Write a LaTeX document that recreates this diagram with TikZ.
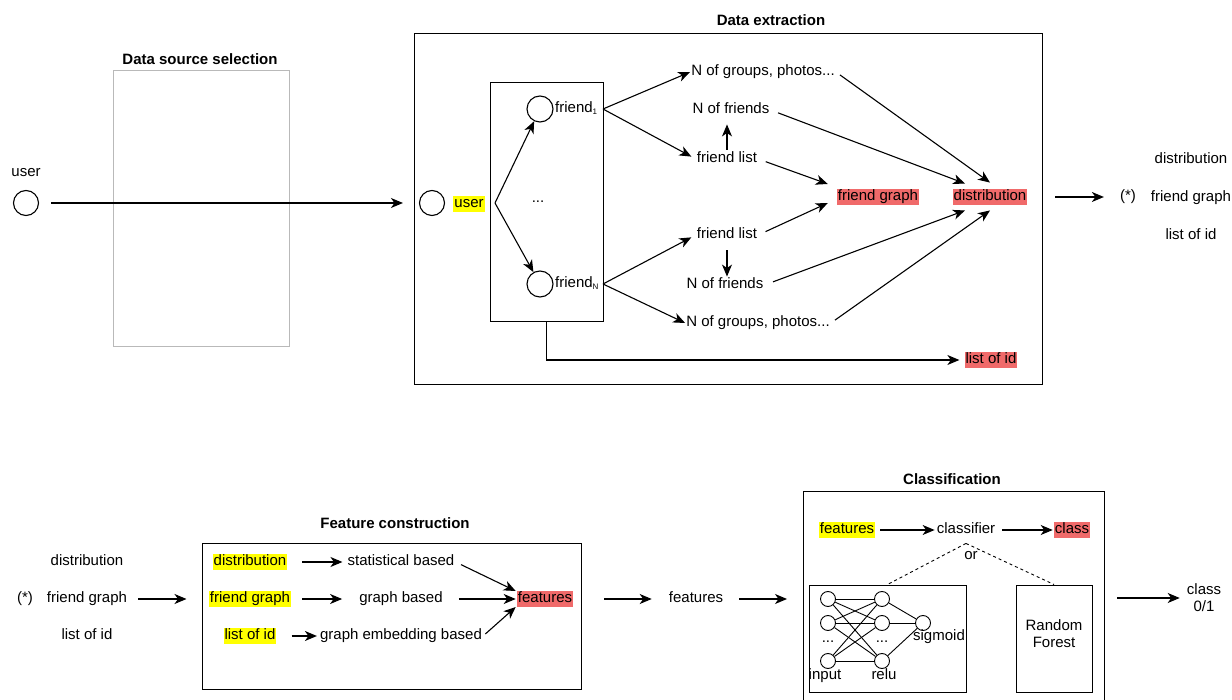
\documentclass[tikz,border=0pt]{standalone}
\usepackage{fontspec}
\setmainfont{Liberation Sans}
\usetikzlibrary{arrows.meta}
\definecolor{hly}{RGB}{255,255,0}
\definecolor{hlr}{RGB}{240,106,106}
\definecolor{lgray}{RGB}{185,185,185}
\begin{document}
\begin{tikzpicture}[x=1pt,y=-1pt, font=\fontsize{15}{17}\selectfont,
 txt/.style={inner xsep=1pt, inner ysep=1pt, text height=11pt, text depth=3.5pt},
 hy/.style={txt, fill=hly},
 hr/.style={txt, fill=hlr},
 ttl/.style={font=\fontsize{15}{17}\selectfont\bfseries},
 arr/.style={-{Stealth[length=12pt,width=10pt,inset=3.5pt]}, line width=1.1pt},
 ln/.style={line width=0.9pt},
 circ/.style={circle, draw, line width=1.1pt, minimum size=25pt, inner sep=0pt},
 ncirc/.style={circle, draw, line width=0.9pt, minimum size=15pt, inner sep=0pt},
 boxn/.style={draw, line width=1pt, inner sep=0pt}]
\useasboundingbox (0,0) rectangle (1232,700);

% ---------------- Data source selection ----------------
\node[circ] (u0) at (26,203) {};
\node[txt] (u0l) at (26,173) {user};
\node[ttl] (tdss) at (200,59) {Data source selection};
\node[draw=lgray, line width=1pt, minimum width=176pt, minimum height=276pt, inner sep=0pt] (dss) at (201,209) {};

% ---------------- Data extraction ----------------
\node[ttl] (tde) at (771,20) {Data extraction};
\node[boxn, minimum width=628pt, minimum height=351pt] (de) at (728,209.5) {};
\node[circ] (u1) at (432,203) {};
\node[hy] (u1l) at (469,204) {user};
\draw[arr, shorten <=12pt, shorten >=16pt] (u0) -- (u1);

\node[boxn, minimum width=113pt, minimum height=239pt] (ib) at (546.5,202.5) {};
\coordinate (br) at (495,203);
\node[circ, minimum size=26pt] (f1) at (540,109) {};
\node[circ, minimum size=26pt] (fN) at (540,284) {};
\node[txt, anchor=west, inner xsep=0pt] (f1l) at (555,109) {friend\textsubscript{\fontsize{8}{9}\selectfont 1}};
\node[txt, anchor=west, inner xsep=0pt] (fNl) at (555,284) {friend\textsubscript{\fontsize{8}{9}\selectfont N}};
\node[txt] (dots1) at (538,199) {...};
\draw[arr] (br) -- (f1);
\draw[arr] (br) -- (fN);
\coordinate (f1r) at (603,109);
\coordinate (fNr) at (603,284);

\node[txt] (ngA) at (763,72) {N of groups, photos...};
\node[txt] (nfA) at (731,110) {N of friends};
\node[txt] (flA) at (727,159) {friend list};
\node[txt] (flB) at (727,235) {friend list};
\node[txt] (nfB) at (725,285) {N of friends};
\node[txt] (ngB) at (758,323) {N of groups, photos...};
\node[hr] (fg) at (878,197) {friend graph};
\node[hr] (dist) at (990,197) {distribution};
\node[hr] (lid) at (991,360) {list of id};

\draw[arr] (f1r) -- (ngA.west);
\draw[arr, shorten >=5pt] (f1r) -- (flA.west);
\draw[arr, shorten >=5pt] (fNr) -- (flB.west);
\draw[arr] (fNr) -- (ngB.west);
\draw[arr, shorten <=1pt, shorten >=6pt] (flA.north) -- (flA.north |- nfA.south);
\draw[arr, shorten <=7pt] (flB.south) -- (flB.south |- nfB.north);
\draw[arr, shorten <=8pt] (flA.east) -- ([xshift=-9pt,yshift=13pt]fg.west);
\draw[arr, shorten <=8pt] (flB.east) -- ([xshift=-9pt,yshift=-6pt]fg.west);
\draw[arr, shorten <=5pt] (ngA.east) -- ([yshift=6pt]dist.north);
\draw[arr, shorten <=8pt] (nfA.east) -- ([xshift=-25pt,yshift=5pt]dist.north);
\draw[arr, shorten <=9pt] (nfB.east) -- ([xshift=-25pt,yshift=-5pt]dist.south);
\draw[arr, shorten <=5pt] (ngB.east) -- ([yshift=-5pt]dist.south);
\draw[arr, shorten >=5pt] (ib.south) |- (lid.west);

% outputs of top
\node[txt] (st1) at (1128,197) {(*)};
\node[txt] (od) at (1191,160) {distribution};
\node[txt] (ofg) at (1191,198) {friend graph};
\node[txt] (oli) at (1191,236) {list of id};
\draw[arr, shorten <=28pt, shorten >=15pt] (dist.east) -- (dist.east -| st1.west);

% ---------------- Feature construction ----------------
\node[txt] (ld) at (87,562) {distribution};
\node[txt] (st2) at (25,599) {(*)};
\node[txt] (lfg) at (87,599) {friend graph};
\node[txt] (lli) at (87,636) {list of id};

\node[ttl] (tfc) at (395,523) {Feature construction};
\node[boxn, minimum width=379pt, minimum height=146pt] (fc) at (391.5,616) {};
\draw[arr, shorten <=10pt, shorten >=15pt] (lfg.east) -- (lfg.east -| fc.west);

\node[hy] (fd) at (250,562) {distribution};
\node[hy] (ffg) at (250,599) {friend graph};
\node[hy] (fli) at (250,636) {list of id};
\node[txt] (sb) at (401,562) {statistical based};
\node[txt] (gb) at (401,599) {graph based};
\node[txt] (geb) at (401,636) {graph embedding based};
\node[hr] (feat) at (545,599) {features};
\draw[arr, shorten <=15pt, shorten >=4pt] (fd.east) -- (sb.west);
\draw[arr, shorten <=11pt, shorten >=16pt] (ffg.east) -- (gb.west);
\draw[arr, shorten <=15pt, shorten >=2pt] (fli.east) -- (geb.west);
\draw[arr, shorten <=6pt] (sb.east) -- ([xshift=-1pt,yshift=8pt]feat.west);
\draw[arr, shorten <=15pt] (gb.east) -- ([xshift=-1pt]feat.west);
\draw[arr, shorten <=3pt] (geb.east) -- ([xshift=-1pt,yshift=-8pt]feat.west);

\node[txt] (f2) at (696,599) {features};
\draw[arr, shorten <=31pt, shorten >=16pt] (feat.east) -- (f2.west);
\coordinate (cbw) at (803,599);
\draw[arr, shorten <=15pt, shorten >=16pt] (f2.east) -- (cbw);

% ---------------- Classification ----------------
\node[ttl] (tcl) at (952,479) {Classification};
\draw[line width=1pt] (803,702) -- (803,491) -- (1104,491) -- (1104,702);
\node[hy] (cf) at (847,530) {features};
\node[txt] (cls) at (966,530) {classifier};
\node[hr] (cl) at (1072,530) {class};
\draw[arr, shorten <=5pt, shorten >=1pt] (cf.east) -- (cls.west);
\draw[arr, shorten <=6pt, shorten >=1pt] (cls.east) -- (cl.west);
\node[txt] (or) at (971,556) {or};
\node[boxn, minimum width=157pt, minimum height=107pt] (nn) at (887.5,638.5) {};
\node[boxn, minimum width=76pt, minimum height=107pt] (rf) at (1054,638.5) {};
\node[align=center, inner sep=0pt] (rft) at (1054,634) {Random\\Forest};
\draw[dashed, line width=0.9pt] ([yshift=-5pt]cls.south) -- (nn.north);
\draw[dashed, line width=0.9pt] ([yshift=-5pt]cls.south) -- (rf.north);

\node[ncirc] (i1) at (828,599) {};
\node[ncirc] (i2) at (828,623) {};
\node[ncirc] (i3) at (828,661) {};
\node[ncirc] (h1) at (882,599) {};
\node[ncirc] (h2) at (882,623) {};
\node[ncirc] (h3) at (882,661) {};
\node[ncirc] (o1) at (923,623) {};
\foreach \a in {i1,i2,i3} {\foreach \b in {h1,h2,h3} {\draw[ln] (\a) -- (\b);}}
\foreach \b in {h1,h2,h3} {\draw[ln] (\b) -- (o1);}
\node[txt] (nd1) at (828,639) {...};
\node[txt] (nd2) at (882,639) {...};
\node[txt] (lin) at (825,676) {input};
\node[txt] (lre) at (884,676) {relu};
\node[txt] (lsg) at (939,637) {sigmoid};

\coordinate (cbe) at (1104,598);
\node[align=center, inner sep=0pt] (res) at (1204,598) {class\\0/1};
\draw[arr, shorten <=13pt, shorten >=7pt] (cbe) -- (res.west);
\end{tikzpicture}
\end{document}
